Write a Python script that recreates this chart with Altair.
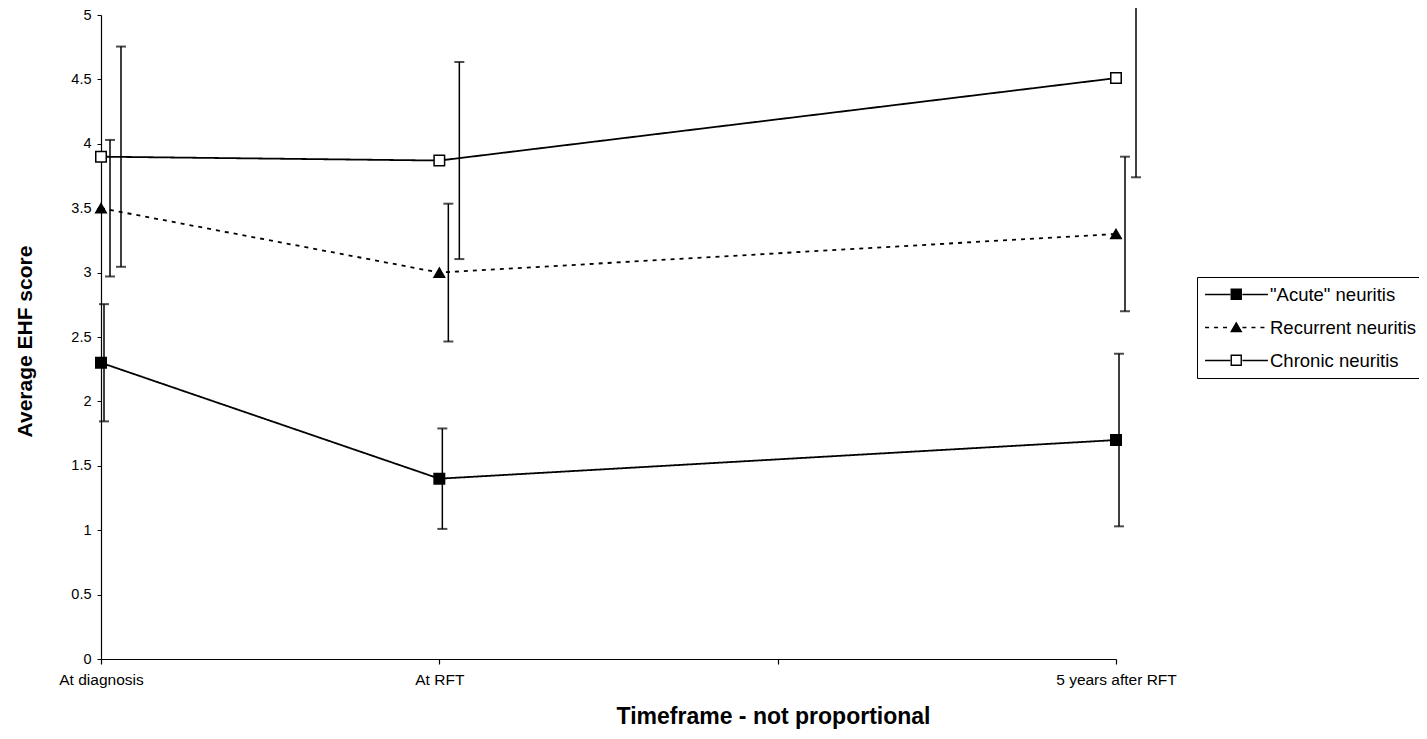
import altair as alt
import pandas as pd

# ---- data ----
timepoints = ["At diagnosis", "At RFT", "5 years after RFT"]
axis_slots = ["At diagnosis", "At RFT", " ", "5 years after RFT"]
series_names = ['"Acute" neuritis', "Recurrent neuritis", "Chronic neuritis"]

acute_mean = [2.3, 1.4, 1.7]
acute_err = [0.455, 0.39, 0.67]
recurrent_mean = [3.5, 3.0, 3.3]
recurrent_err = [0.53, 0.535, 0.6]
chronic_mean = [3.9, 3.87, 4.51]
chronic_err = [0.855, 0.765, 0.77]

y_ticks = [0, 0.5, 1, 1.5, 2, 2.5, 3, 3.5, 4, 4.5, 5]

marker_names = [n + " " for n in series_names]

rows = []
for name, mname, means, errs in zip(series_names, marker_names,
                                    [acute_mean, recurrent_mean, chronic_mean],
                                    [acute_err, recurrent_err, chronic_err]):
    for t, m, e in zip(timepoints, means, errs):
        rows.append({"time": t, "series": name, "marker": mname,
                     "mean": m, "lo": m - e, "hi": m + e})
df = pd.DataFrame(rows)

FONT = "Liberation Sans"
W, H = 1015, 644
LEFT, TOP = 93, 7

x_enc = alt.X(
    "time:N",
    scale=alt.Scale(type="point", domain=axis_slots, padding=0),
    axis=alt.Axis(labelAngle=0, labelFont=FONT, labelFontSize=15.5, labelColor="black",
                  labelPadding=8, tickSize=5, tickColor="black", domainColor="black",
                  domainWidth=1.2, tickWidth=1.2,
                  titleFont=FONT, titleFontSize=23, titleFontWeight="bold",
                  titleColor="black", titleX=672, titleY=57, titleAlign="center",
                  titleBaseline="middle"),
    title="Timeframe - not proportional",
)
y_scale = alt.Scale(domain=[0, 5], nice=False, zero=True)
y_enc = alt.Y(
    "mean:Q",
    scale=y_scale,
    axis=alt.Axis(values=y_ticks, format=".1~f", grid=False, labelFont=FONT,
                  labelFontSize=14.5, labelColor="black", labelPadding=6, tickSize=4,
                  tickColor="black", domainColor="black", domainWidth=1.2, tickWidth=1,
                  titleFont=FONT, titleFontSize=21, titleFontWeight="bold",
                  titleColor="black", titleX=-76, titleY=326, titleAngle=-90,
                  titleAlign="center", titleBaseline="middle"),
    title="Average EHF score",
)

base = alt.Chart(df)

legend_x, legend_y = 1096, 262
common = dict(orient="none", legendX=legend_x, legendY=legend_y, title=None,
              labelFont=FONT, labelFontSize=18.5, labelOffset=24, padding=8,
              rowPadding=14, labelLimit=400, symbolOffset=22)
line_legend = alt.Legend(
    symbolType="M-3.7,0H-0.7M0.7,0H3.7", symbolSize=289, symbolStrokeWidth=1.6,
    symbolStrokeColor="black", labelColor="black", strokeColor="black",
    fillColor="white", **common,
)
marker_legend = alt.Legend(
    symbolSize=100, symbolStrokeWidth=1.4, symbolStrokeColor="black",
    labelColor="rgba(0,0,0,0)", **common,
)

lines = base.mark_line(color="black", strokeWidth=1.8).encode(
    x=x_enc, y=y_enc,
    strokeDash=alt.StrokeDash("series:N",
                              scale=alt.Scale(domain=series_names,
                                              range=[[1, 0], [4, 5], [1, 0]]),
                              legend=line_legend),
)

points = base.mark_point(strokeWidth=1.5, opacity=1, size=110).encode(
    x=x_enc, y=y_enc,
    shape=alt.Shape("marker:N",
                    scale=alt.Scale(domain=marker_names,
                                    range=["square", "triangle-up", "square"]),
                    legend=marker_legend),
    fill=alt.Fill("marker:N",
                  scale=alt.Scale(domain=marker_names, range=["black", "black", "white"]),
                  legend=marker_legend),
    stroke=alt.Stroke("marker:N",
                      scale=alt.Scale(domain=marker_names, range=["black", "black", "black"]),
                      legend=marker_legend),
)

err_offsets = [3, 9, 20]
err_layers = []
for name, off in zip(series_names, err_offsets):
    sub = base.transform_filter(alt.datum.series == name)
    err_layers.append(sub.mark_rule(color="black", strokeWidth=1.5, xOffset=off).encode(
        x=x_enc, y=alt.Y("lo:Q", scale=y_scale), y2="hi:Q"))
    err_layers.append(sub.mark_tick(color="black", size=10, thickness=2, xOffset=off).encode(
        x=x_enc, y=alt.Y("lo:Q", scale=y_scale)))
    err_layers.append(sub.mark_tick(color="black", size=10, thickness=2, xOffset=off).encode(
        x=x_enc, y=alt.Y("hi:Q", scale=y_scale)))

chart = alt.layer(*err_layers, lines, points).properties(
    width=W, height=H,
    autosize=alt.AutoSizeParams(type="none"),
    padding={"left": LEFT, "top": TOP, "right": 1411 - LEFT - W, "bottom": 723 - TOP - H},
    background="white",
).configure_view(stroke=None)

chart.save("out.html", embed_options={"renderer": "svg", "actions": False})
